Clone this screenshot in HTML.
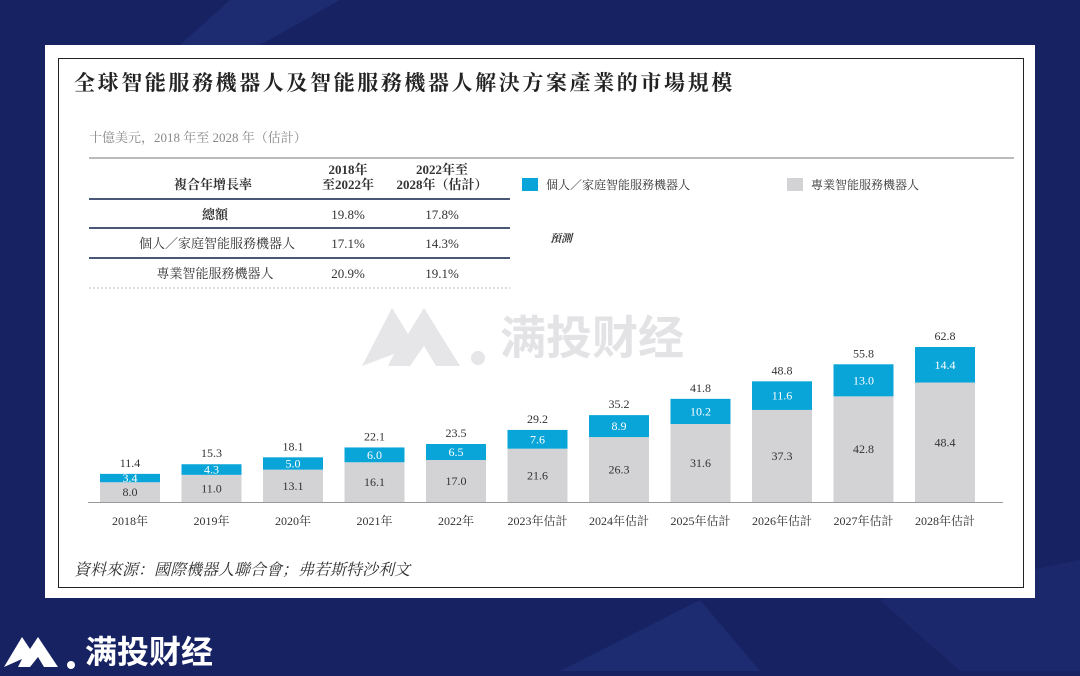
<!DOCTYPE html>
<html><head><meta charset="utf-8">
<style>
body{margin:0;width:1080px;height:671px;background:#162262;position:relative;overflow:hidden;font-family:"Liberation Serif","Noto Serif CJK SC","Noto Sans CJK TC",serif;}
.abs{position:absolute}
</style></head><body>
<svg class="abs" style="left:0;top:0" width="1080" height="671">
<polygon points="230,0 340,0 260,45 180,45" fill="#1d2b70"/>
<polygon points="560,671 700,600 760,671" fill="#1d2b70"/>
<polygon points="880,600 1080,560 1080,671 960,671" fill="#1b286b"/>
</svg>
<div class="abs" style="left:45px;top:45px;width:990px;height:553px;background:#fff"></div>
<div class="abs" style="left:58px;top:58px;width:964px;height:528px;border:1px solid #222;background:#fff"></div>
<div class="abs" style="left:74px;top:67px;font-size:21px;font-weight:bold;color:#222;letter-spacing:2.6px">全球智能服務機器人及智能服務機器人解決方案產業的市場規模</div>
<div class="abs" style="left:89px;top:127px;font-size:13px;color:#888">十億美元，2018 年至 2028 年（估計）</div>
<div class="abs" style="left:89px;top:157px;width:925px;height:2px;background:#bbb"></div>
<svg class="abs" style="left:0;top:0" width="1080" height="671">
<g font-size="13" fill="#333" text-anchor="middle" font-family="Liberation Serif, Noto Serif CJK SC, serif">
<text x="213" y="189" font-weight="bold">複合年增長率</text>
<text x="348" y="174" font-weight="bold">2018年</text><text x="348" y="189" font-weight="bold">至2022年</text>
<text x="442" y="174" font-weight="bold">2022年至</text><text x="442" y="189" font-weight="bold">2028年（估計）</text>
<text x="215" y="219" font-weight="bold">總額</text><text x="348" y="219">19.8%</text><text x="442" y="219">17.8%</text>
<text x="217" y="248">個人／家庭智能服務機器人</text><text x="348" y="248">17.1%</text><text x="442" y="248">14.3%</text>
<text x="215" y="278">專業智能服務機器人</text><text x="348" y="278">20.9%</text><text x="442" y="278">19.1%</text>
</g>
<rect x="89" y="198" width="421" height="2" fill="#4a5878"/>
<rect x="89" y="227" width="421" height="2" fill="#4a5878"/>
<rect x="89" y="257" width="421" height="2" fill="#4a5878"/>
<line x1="89" y1="288" x2="510" y2="288" stroke="#bbb" stroke-dasharray="2,2"/>
<text x="550" y="242" font-size="11" font-style="italic" font-weight="bold" fill="#333">預測</text>
</svg>
<div class="abs" style="left:522px;top:176px;font-size:12px;color:#333"><span style="display:inline-block;width:16px;height:13px;background:#0aa5d8;vertical-align:-2px;margin-right:8px"></span>個人／家庭智能服務機器人</div>
<div class="abs" style="left:787px;top:176px;font-size:12px;color:#333"><span style="display:inline-block;width:16px;height:13px;background:#d3d3d5;vertical-align:-2px;margin-right:8px"></span>專業智能服務機器人</div>
<svg class="abs" style="left:360px;top:300px" width="130" height="70"><path d="M2,66 L32,8 L48,34 L64,8 L100,66 L76,66 L64,46 L50,66 L28,66 L34,54 Z" fill="rgba(200,200,205,0.45)"/><circle cx="118" cy="58" r="7" fill="rgba(200,200,205,0.45)"/></svg>
<div class="abs" style="left:500px;top:302px;font-family:'Noto Sans CJK SC',sans-serif;font-size:46px;color:rgba(200,200,205,0.5);font-weight:bold">满投财经</div>
<svg class="abs" style="left:0;top:0" width="1080" height="671" id="chart"></svg>
<div class="abs" style="left:74px;top:557px;font-size:16px;font-style:italic;color:#333">資料來源：國際機器人聯合會；弗若斯特沙利文</div>
<div class="abs" style="left:0;top:625px;width:80px;height:46px">
<svg width="80" height="46"><path d="M4,42 L22,12 L30,24 L38,12 L58,42 L44,42 L38,32 L30,42 L18,42 L22,34 Z" fill="#fff"/><circle cx="71" cy="40" r="4" fill="#fff"/></svg></div>
<div class="abs" style="left:85px;top:627px;font-family:'Noto Sans CJK SC',sans-serif;font-size:32px;color:#fff;font-weight:bold">满投财经</div>
<script>
const categories=["2018年","2019年","2020年","2021年","2022年","2023年估計","2024年估計","2025年估計","2026年估計","2027年估計","2028年估計"];
const personal=[3.4,4.3,5.0,6.0,6.5,7.6,8.9,10.2,11.6,13.0,14.4];
const professional=[8.0,11.0,13.1,16.1,17.0,21.6,26.3,31.6,37.3,42.8,48.4];
const totals=[11.4,15.3,18.1,22.1,23.5,29.2,35.2,41.8,48.8,55.8,62.8];
const svg=document.getElementById('chart');
const NS='http://www.w3.org/2000/svg';
const base=502, k=155/62.8, x0=130, step=81.5, bw=60;
const xs=i=>x0+i*step, ys=v=>base-v*k;
function mk(t,a,txt){const e=document.createElementNS(NS,t);for(const n in a)e.setAttribute(n,a[n]);if(txt!=null)e.textContent=txt;svg.appendChild(e);return e;}
const ax=mk('line',{x1:88,x2:1003,y1:base+0.5,y2:base+0.5,stroke:'#999'});


categories.forEach((c,i)=>{
 const cx=xs(i), p=professional[i], q=personal[i];
 const g=mk('rect',{x:cx-bw/2,y:ys(p),width:bw,height:p*k,fill:'#d3d3d5'});
 
 
 const b=mk('rect',{x:cx-bw/2,y:ys(p+q),width:bw,height:q*k,fill:'#0aa5d8'});
 
 
 const f='font-family:Liberation Serif,serif;font-size:12px';
 const t1=mk('text',{x:cx,y:ys(p/2)+4,'text-anchor':'middle',fill:'#333',style:f},p.toFixed(1));
 
 
 const t2=mk('text',{x:cx,y:ys(p+q/2)+4,'text-anchor':'middle',fill:'#fff',style:f},q.toFixed(1));
 
 
 const t3=mk('text',{x:cx,y:ys(totals[i])-7,'text-anchor':'middle',fill:'#333',style:f},totals[i].toFixed(1));
 
 
 const t4=mk('text',{x:cx,y:base+23,'text-anchor':'middle',fill:'#333',style:'font-family:Liberation Serif,Noto Serif CJK SC,serif;font-size:12px'},c);
 
 
});
</script>
</body></html>
